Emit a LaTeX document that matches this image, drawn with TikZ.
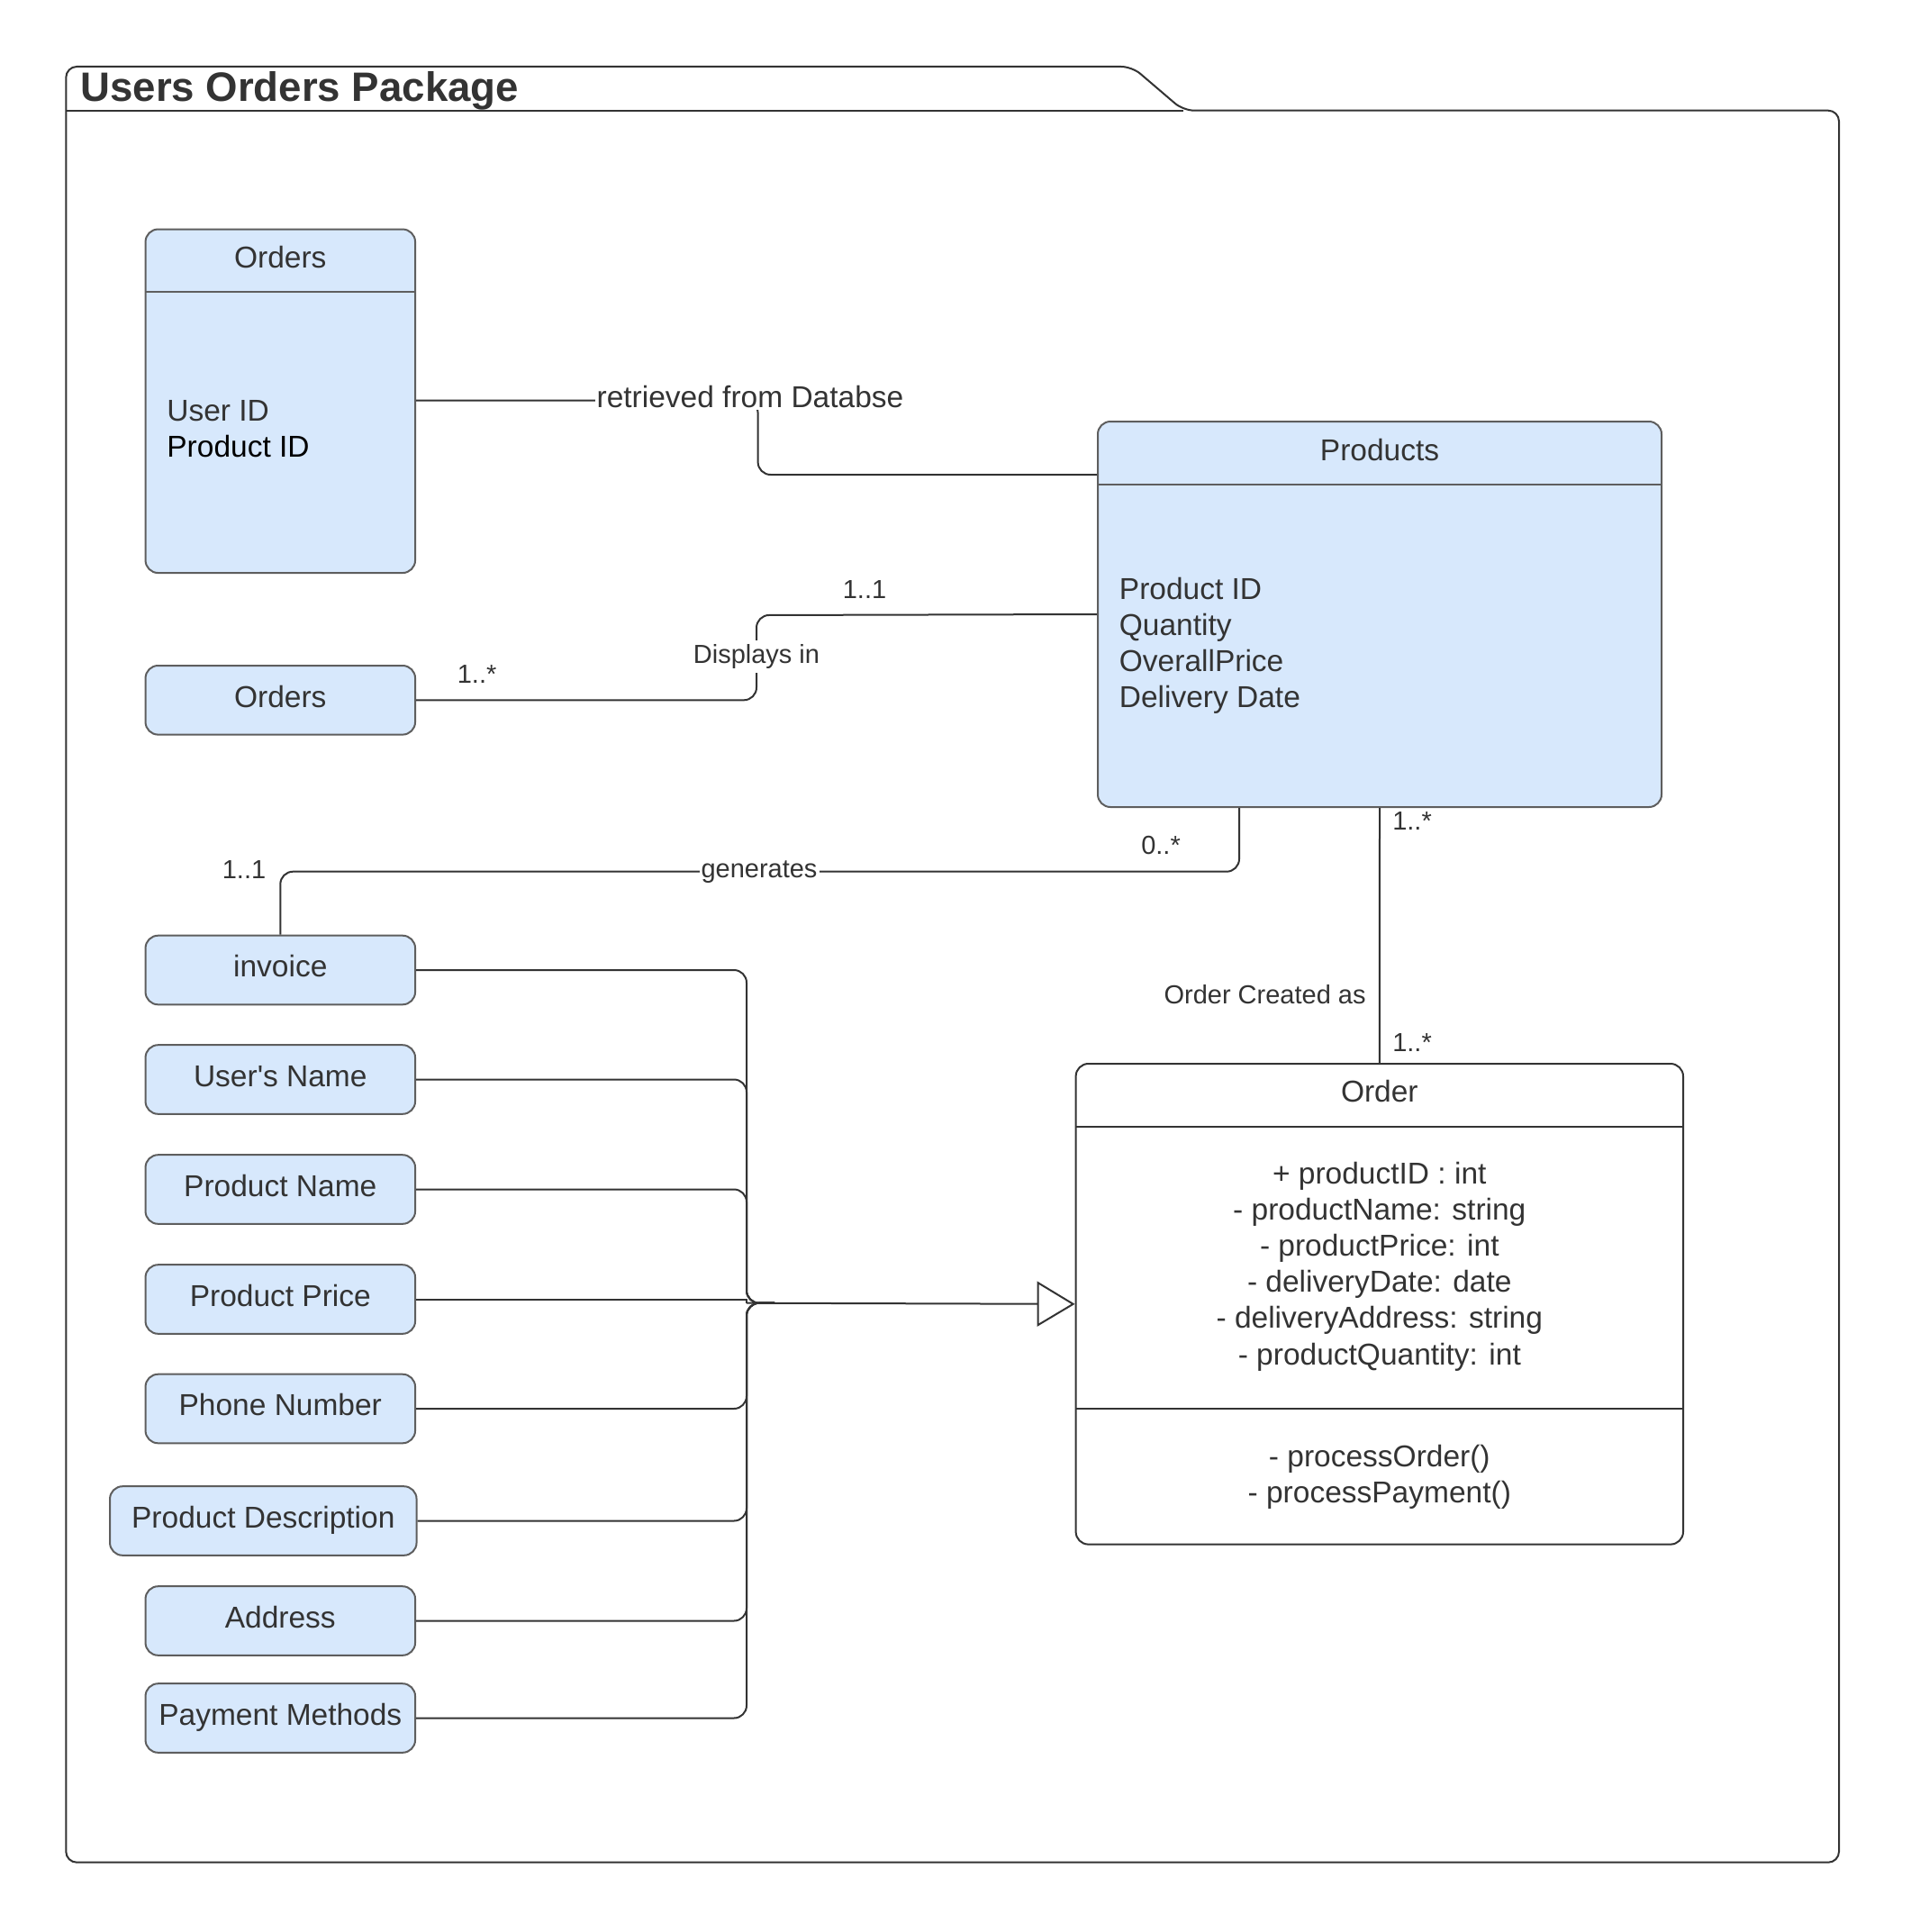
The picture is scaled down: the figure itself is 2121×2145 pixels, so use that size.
\documentclass[tikz,border=0pt]{standalone}
\usepackage{fontspec}
\setmainfont{Liberation Sans}
\usetikzlibrary{arrows.meta}
\definecolor{lblue}{RGB}{215,232,252}
\definecolor{bordergray}{RGB}{94,94,94}
\definecolor{txt}{RGB}{51,51,51}
\definecolor{linec}{RGB}{51,51,51}
\tikzset{
  box/.style={draw=bordergray, line width=1pt, fill=lblue, rounded corners=7pt, inner sep=0pt},
  classbox/.style={draw=linec, line width=1pt, rounded corners=7pt, inner sep=0pt},
  smallbox/.style={box, minimum width=149.75pt, minimum height=38.3pt, text=txt, font=\fontsize{16.75}{20.1}\selectfont, text height=12pt, text depth=4.2pt},
  divider/.style={draw=bordergray, line width=1pt},
  conn/.style={draw=linec, line width=1pt},
  bigtext/.style={text=txt, font=\fontsize{16.75}{20.1}\selectfont, inner sep=0pt},
  lbl/.style={text=txt, font=\fontsize{14.5}{17.4}\selectfont, inner sep=2pt},
  lblbg/.style={lbl, fill=white},
  frame/.style={draw=linec, line width=1pt},
}
\begin{document}
\begin{tikzpicture}[x=0.5pt, y=-0.5pt]
\useasboundingbox (0,0) rectangle (2121,2145);
% package frame
\draw[frame, rounded corners=6pt] (73.3,123) -- (73.3,74) -- (1257,74) -- (1314,122.7) -- (2042,122.7) -- (2042,2067.7) -- (73.3,2067.7) -- cycle;
\draw[frame] (73.3,122.7) -- (1314,122.7);
\node[anchor=base west, inner sep=0pt, text=txt, font=\fontsize{22.8}{27}\selectfont\bfseries] (pkgtitle) at (89,112.5) {Users Orders Package};

% Orders (big)
\node[box, minimum width=149.75pt, minimum height=190.75pt] (ordersB) at (311.3,445.3) {};
\draw[divider] (161.5,324) -- (461,324);
\node[bigtext] (ordersBt) at (311.3,286) {Orders};
\node[bigtext, anchor=west, align=left] (ordersBa) at (185,476.5) {User ID\\\textcolor{black}{Product ID}};

% Products
\node[box, minimum width=313pt, minimum height=214pt] (products) at (1532,682) {};
\draw[divider] (1219,538) -- (1845,538);
\node[bigtext] (productst) at (1532,499.5) {Products};
\node[bigtext, anchor=west, align=left] (productsa) at (1242.5,717) {Product ID\\Quantity\\OverallPrice\\Delivery Date};

% Order class
\node[classbox, minimum width=337.2pt, minimum height=266.8pt] (order) at (1531.8,1447.8) {};
\draw[conn] (1194.6,1250.7) -- (1869,1250.7);
\draw[conn] (1194.6,1564) -- (1869,1564);
\node[bigtext] (ordert) at (1531.8,1212) {Order};
\node[bigtext, align=center] (ordera) at (1531.8,1406) {+ productID : int\\- productName: string\\- productPrice: int\\- deliveryDate: date\\- deliveryAddress: string\\- productQuantity: int};
\node[bigtext, align=center] (orderm) at (1531.8,1639.5) {- processOrder()\\- processPayment()};

% small boxes
\node[smallbox] (ordersS) at (311.3,777.3) {Orders};
\node[smallbox] (invoice) at (311.3,1077) {invoice};
\node[smallbox] (uname) at (311.3,1198.5) {User\textquotesingle s Name};
\node[smallbox] (pname) at (311.3,1320.5) {Product Name};
\node[smallbox] (pprice) at (311.3,1442.5) {Product Price};
\node[smallbox] (phone) at (311.3,1564) {Phone Number};
\node[smallbox, minimum width=170.25pt] (pdesc) at (292.3,1688.5) {Product Description};
\node[smallbox] (addr) at (311.3,1799.5) {Address};
\node[smallbox] (paym) at (311.3,1907.5) {Payment Methods};

% connector 1: retrieved from Databse
\coordinate (c1a) at (841.6,444.7);
\coordinate (c1b) at (841.6,527);
\draw[conn, rounded corners=7pt] (ordersB.east |- c1a) -- (c1a) -- (c1b) -- (c1b -| products.west);
\node[fill=white, text=txt, font=\fontsize{16.75}{20.1}\selectfont, inner sep=1pt] (l1) at (833,441) {retrieved from Databse};

% connector 2: Displays in
\coordinate (c2a) at (840,777.3);
\coordinate (c2b) at (840,683);
\draw[conn, rounded corners=7pt] (ordersS.east) -- (c2a) -- (c2b) -- (products.west);
\node[lblbg] (l2) at (840,729) {Displays in};
\node[lbl] (m2a) at (529.6,748.5) {1..*};
\node[lbl] (m2b) at (960,655) {1..1};

% connector 3: generates
\coordinate (c3a) at (1376,967.7);
\coordinate (c3b) at (311.3,967.7);
\draw[conn, rounded corners=7pt] (products.south -| c3a) -- (c3a) -- (c3b) -- (invoice.north);
\node[lblbg, inner sep=1pt] (l3) at (843,968) {generates};
\node[lbl] (m3a) at (1289,938.7) {0..*};
\node[lbl] (m3b) at (271,966) {1..1};

% connector 4: Order Created as
\draw[conn] (products.south) -- (order.north);
\node[lbl, anchor=east] (l4) at (1521,1104) {Order Created as};
\node[lbl] (m4a) at (1568,911.7) {1..*};
\node[lbl] (m4b) at (1568,1158) {1..*};

% generalization
\coordinate (J) at (829,1446.7);
\coordinate (Jr) at (860,1446.7);
\draw[conn, -{Triangle[open, length=21pt, width=25pt]}] (J) -- (order.west);
\foreach \b in {invoice,uname,pname,phone,pdesc,addr,paym}{
  \draw[conn, rounded corners=7pt] (\b.east) -| (J) -- (Jr);
}
\draw[conn] (pprice.east) -- (pprice.east -| J) -- (J);
\end{tikzpicture}
\end{document}
